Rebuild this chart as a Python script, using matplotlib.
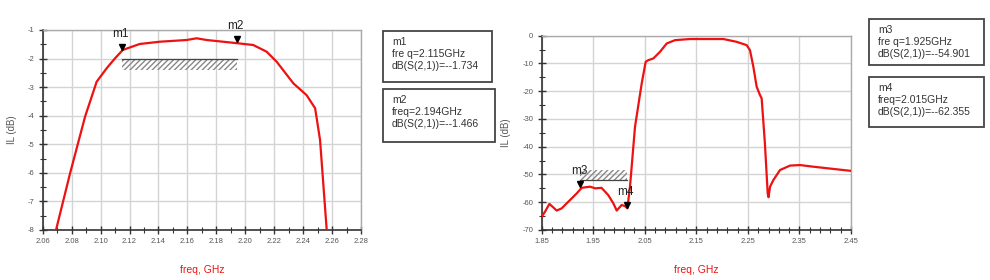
import matplotlib
matplotlib.use("Agg")
import matplotlib.pyplot as plt
from matplotlib.patches import Rectangle
from matplotlib.ticker import MultipleLocator
import matplotlib.transforms as mtransforms

plt.rcParams['font.family'] = ['Liberation Sans', 'DejaVu Sans']
plt.rcParams['axes.unicode_minus'] = False

# left plot: passband zoom
freq1 = [2.0692, 2.0789, 2.0893, 2.0973, 2.1042, 2.110, 2.1153, 2.127, 2.141, 2.1595,
         2.1664, 2.1733, 2.194, 2.2055, 2.2148, 2.2217, 2.2333, 2.2424, 2.2483, 2.2517, 2.2563]
il1 = [-8.0, -6.02, -4.03, -2.81, -2.34, -1.99, -1.70, -1.49, -1.41, -1.35,
       -1.29, -1.35, -1.46, -1.525, -1.76, -2.11, -2.87, -3.28, -3.74, -4.85, -8.0]
markers1 = ["m1", "m2"]
mfreq1 = [2.115, 2.194]
mval1 = [-1.734, -1.466]
mfreq_txt1 = ["fre q=2.115GHz", "freq=2.194GHz"]
limit1 = ([2.115, 2.194], -2.0, -2.4)

# right plot: wideband
freq2 = [1.85, 1.8565, 1.8649, 1.871, 1.879, 1.8888, 1.9017, 1.918, 1.9276, 1.9438, 1.954,
         1.966, 1.979, 1.989, 1.9955, 2.005, 2.0117, 2.0162, 2.0213, 2.031, 2.044, 2.0517,
         2.057, 2.0666, 2.0795, 2.0925, 2.1087, 2.1377, 2.2024, 2.228, 2.2476, 2.254, 2.2606,
         2.267, 2.2735, 2.2767, 2.283, 2.2884, 2.29, 2.293, 2.2994, 2.3123, 2.3317, 2.351,
         2.377, 2.4158, 2.45]
il2 = [-65.2, -63.4, -60.6, -61.6, -63.0, -62.2, -59.8, -56.8, -54.8, -54.4, -55.0,
       -54.8, -57.4, -60.4, -63.0, -61.0, -61.4, -62.2, -54.4, -32.8, -17.2, -9.4,
       -8.8, -8.2, -5.8, -2.8, -1.6, -1.2, -1.2, -2.2, -3.4, -5.2, -11.2,
       -18.4, -21.4, -22.6, -38.8, -56.8, -58.2, -54.4, -52.0, -48.4, -46.8, -46.6,
       -47.2, -48.0, -48.7]
markers2 = ["m3", "m4"]
mfreq2 = [1.925, 2.015]
mval2 = [-54.901, -62.355]
mfreq_txt2 = ["fre q=1.925GHz", "freq=2.015GHz"]
limit2 = ([1.925, 2.015], -52.0, -48.4)

fig = plt.figure(figsize=(9.9, 2.8), dpi=100)
W, H = 990.0, 280.0

ax1 = fig.add_axes([42.7 / W, 1 - 230 / H, (361 - 42.7) / W, 200 / H])
ax2 = fig.add_axes([541.7 / W, 1 - 230 / H, (851 - 541.7) / W, (230 - 35.7) / H])

red = '#ee1111'
tick_col = '#555555'


def style(ax, xlim, ylim, xmaj, xmin, xoff, ymaj, ymin):
    ax.set_xlim(*xlim)
    ax.set_ylim(*ylim)
    ax.xaxis.set_major_locator(MultipleLocator(xmaj, offset=xoff))
    ax.xaxis.set_minor_locator(MultipleLocator(xmin, offset=xoff % xmin))
    ax.yaxis.set_major_locator(MultipleLocator(ymaj))
    ax.yaxis.set_minor_locator(MultipleLocator(ymin))
    ax.xaxis.set_major_formatter(lambda v, p: f"{v:.2f}")
    ax.grid(True, which='major', color='#d4d4d4', lw=1.0)
    ax.set_axisbelow(True)
    ax.tick_params(which='major', direction='inout', length=6, width=1, color='#333333',
                   labelsize=5.5, labelcolor=tick_col, pad=3)
    ax.tick_params(which='minor', direction='inout', length=4, width=0.8, color='#333333')
    for s in ['left', 'bottom']:
        ax.spines[s].set_color('#333333')
        ax.spines[s].set_linewidth(1.2)
    for s in ['top', 'right']:
        ax.spines[s].set_color('#aaaaaa')
        ax.spines[s].set_linewidth(1.0)
    ax.set_xlabel('freq, GHz', color=red, fontsize=7.5, labelpad=14)
    ax.set_ylabel('IL (dB)', color=tick_col, fontsize=7, labelpad=8)


style(ax1, (2.06, 2.28), (-8, -1), 0.02, 0.01, 0.0, 1, 0.5)
style(ax2, (1.85, 2.45), (-70, 0), 0.1, 0.02, 0.05, 10, 5)

for ax, fr, il, names, mf, mv, lim in [
        (ax1, freq1, il1, markers1, mfreq1, mval1, limit1),
        (ax2, freq2, il2, markers2, mfreq2, mval2, limit2)]:
    ax.plot(fr, il, color=red, lw=1.6, zorder=3)
    # limit mask line with hatching
    lx, ly, lh = lim
    ax.plot(lx, [ly, ly], color='#444444', lw=0.9, zorder=4)
    ax.fill_between(lx, ly, lh, facecolor='none', edgecolor='#888888', hatch='//////',
                    lw=0, zorder=2)
    # markers
    off = mtransforms.offset_copy(ax.transData, fig=fig, x=0, y=3, units='points')
    for n, x, y in zip(names, mf, mv):
        ax.plot([x], [y], marker='v', color='black', ms=4, transform=off, zorder=5)
        ax.annotate(n, xy=(x, y), xytext=(-1, 8), textcoords='offset points',
                    ha='center', va='bottom', fontsize=8.5, color='#222222', zorder=6)

# marker readout boxes
boxes = [
    (383, 31, 109, 51, markers1[0], mfreq_txt1[0], mval1[0]),
    (383, 89, 112, 53, markers1[1], mfreq_txt1[1], mval1[1]),
    (869, 19, 115, 46, markers2[0], mfreq_txt2[0], mval2[0]),
    (869, 77, 115, 50, markers2[1], mfreq_txt2[1], mval2[1]),
]
for bx, by, bw, bh, n, ft, v in boxes:
    fig.patches.append(Rectangle((bx / W, 1 - (by + bh) / H), bw / W, bh / H,
                                 transform=fig.transFigure, fill=False,
                                 edgecolor='#444444', lw=1.3))
    fig.text((bx + 9) / W, 1 - (by + 6) / H, f"{n}\n{ft}\ndB(S(2,1))=-{v:.3f}",
             fontsize=7.5, color='#333333', va='top', ha='left', linespacing=1.25)

fig.savefig('out.png', dpi=100)
